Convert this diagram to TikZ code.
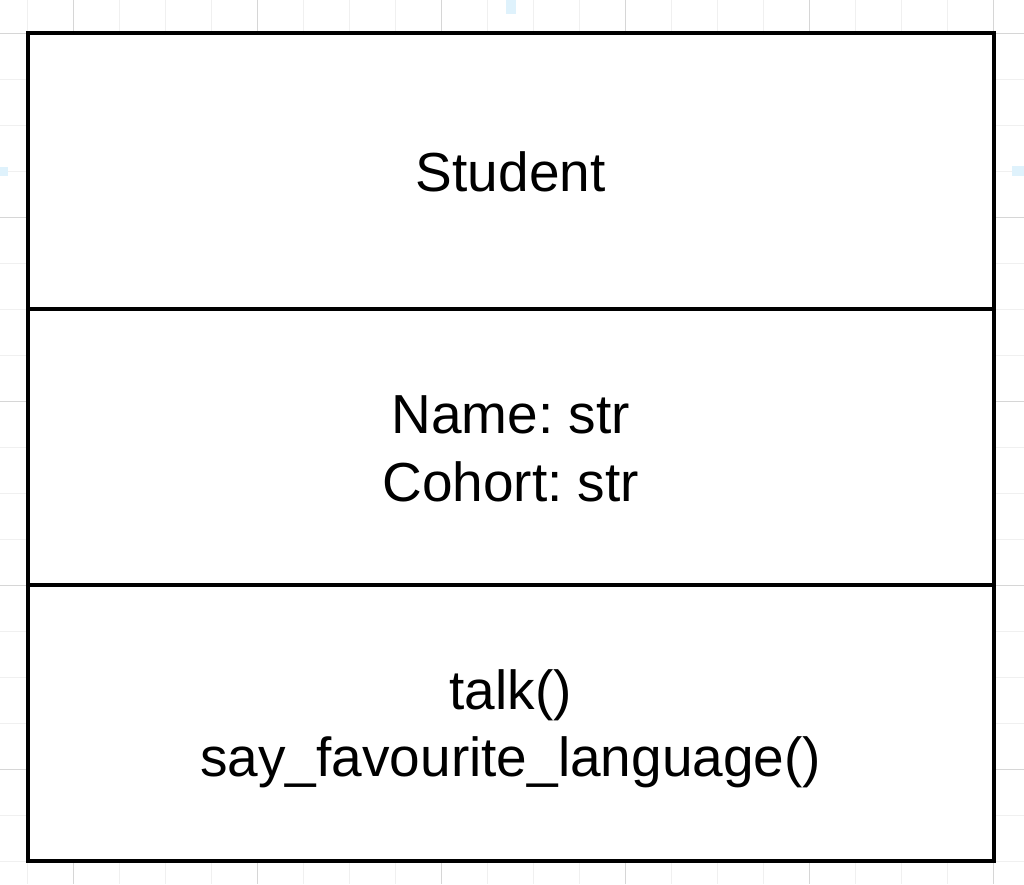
\documentclass[tikz,border=0pt]{standalone}
\usepackage{fontspec}
\setmainfont{Liberation Sans}
\frenchspacing
\definecolor{gridminor}{HTML}{F0F0F0}
\definecolor{gridmajor}{HTML}{D6D6D6}
\definecolor{marker}{HTML}{DFF2FC}
\begin{document}
\begin{tikzpicture}[x=1pt,y=-1pt,
  minorline/.style={draw=gridminor, line width=1pt},
  majorline/.style={draw=gridmajor, line width=1pt},
  markbox/.style={fill=marker, draw=none},
  compartment/.style={draw=black, line width=4pt, fill=white,
    minimum width=966.5pt, minimum height=276pt, inner sep=0pt},
  classtext/.style={inner sep=0pt, align=center,
    font=\fontsize{55}{67.5}\selectfont}]
\useasboundingbox (0,0) rectangle (1024,884);
\fill[white] (0,0) rectangle (1024,884);
% background grid
\foreach \k in {0,...,21} {
  \pgfmathtruncatemacro{\m}{mod(\k+3,4)}
  \ifnum\m=0
    \draw[majorline] ({27+46*\k},0) -- ({27+46*\k},884);
  \else
    \draw[minorline] ({27+46*\k},0) -- ({27+46*\k},884);
  \fi
}
\foreach \k in {0,...,18} {
  \pgfmathtruncatemacro{\m}{mod(\k,4)}
  \ifnum\m=0
    \draw[majorline] (0,{33+46*\k}) -- (1024,{33+46*\k});
  \else
    \draw[minorline] (0,{33+46*\k}) -- (1024,{33+46*\k});
  \fi
}
% selection markers
\path[markbox] (0,167) rectangle (8,176);
\path[markbox] (506,0) rectangle (516,14);
\path[markbox] (1012,166) rectangle (1024,176);
% class box
\node[compartment] (title) at (510.75,171) {};
\node[compartment] (attrs) at (510.75,447) {};
\node[compartment] (ops) at (510.75,723) {};
\node[classtext] (titletext) at (510.75,172) {Student};
\node[classtext] (attrstext) at (510.75,449) {Name: str\\Cohort: str};
\node[classtext] (opstext) at (510.75,729) {talk()\\say\_favourite\_language()};
\end{tikzpicture}
\end{document}
